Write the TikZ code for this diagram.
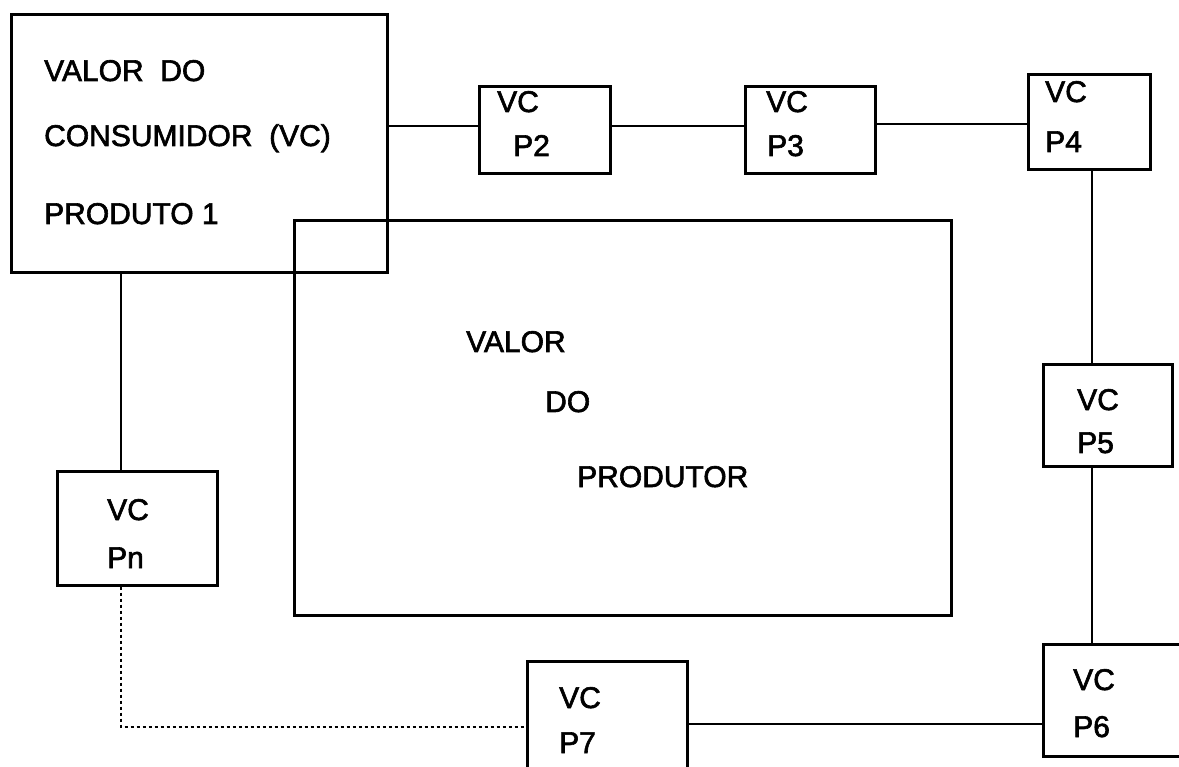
\documentclass[tikz,border=0pt]{standalone}
\usepackage{fontspec}
\setmainfont{Liberation Sans}[FakeBold=2]
\begin{document}
\begin{tikzpicture}[x=1pt,y=-1pt,
  box/.style={draw, line width=3pt, inner sep=0pt, rectangle},
  lbl/.style={anchor=base west, inner sep=0pt, font=\fontsize{30}{36}\selectfont},
  conn/.style={line width=2.8pt},
  dotconn/.style={line width=2.6pt, dash pattern=on 3pt off 3pt}]
\clip (0,0) rectangle (1179,767);
\fill[white] (0,0) rectangle (1179,767);
% boxes
\node[box, minimum width=376pt, minimum height=258pt] (big) at (199,144) {};
\node[box, minimum width=657pt, minimum height=394pt] (prod) at (622.5,418) {};
\node[box, minimum width=131pt, minimum height=87pt] (p2) at (544.5,130.5) {};
\node[box, minimum width=130pt, minimum height=87pt] (p3) at (810,130.5) {};
\node[box, minimum width=122pt, minimum height=95pt] (p4) at (1089,122.5) {};
\node[box, minimum width=129pt, minimum height=101pt] (p5) at (1107.5,415.5) {};
\node[box, minimum width=170pt, minimum height=112pt] (p6) at (1128,700) {};
\node[box, minimum width=160pt, minimum height=114pt] (pn) at (137,528) {};
\node[box, minimum width=160pt, minimum height=140pt] (p7) at (607,731) {};
% texts
\node[lbl] (t1) at (44,81) {VALOR\ \ DO};
\node[lbl] (t2) at (44,146) {CONSUMIDOR\ \ (VC)};
\node[lbl] (t3) at (44,224) {PRODUTO 1};
\node[lbl] (t4) at (466,352) {VALOR};
\node[lbl] (t5) at (545,412) {DO};
\node[lbl] (t6) at (577,487) {PRODUTOR};
\node[lbl] (a2) at (497,112) {VC};
\node[lbl] (b2) at (513,156) {P2};
\node[lbl] (a3) at (766,112) {VC};
\node[lbl] (b3) at (767,156) {P3};
\node[lbl] (a4) at (1045,102) {VC};
\node[lbl] (b4) at (1045,152) {P4};
\node[lbl] (a5) at (1077,410) {VC};
\node[lbl] (b5) at (1077,453) {P5};
\node[lbl] (a6) at (1073,690) {VC};
\node[lbl] (b6) at (1073,737) {P6};
\node[lbl] (an) at (107,520) {VC};
\node[lbl] (bn) at (107,568) {Pn};
\node[lbl] (a7) at (559,708) {VC};
\node[lbl] (b7) at (559,753) {P7};
% connector anchors
\coordinate (y1) at (0,126);
\coordinate (y2) at (0,124);
\coordinate (x1) at (1092,0);
\coordinate (xn) at (121,0);
\coordinate (y3) at (0,727);
\coordinate (y4) at (0,724);
\coordinate (corner) at (121,727);
% connectors
\draw[conn] (big.east |- y1) -- (p2.west |- y1);
\draw[conn] (p2.east |- y1) -- (p3.west |- y1);
\draw[conn] (p3.east |- y2) -- (p4.west |- y2);
\draw[conn] (p4.south -| x1) -- (p5.north -| x1);
\draw[conn] (p5.south -| x1) -- (p6.north -| x1);
\draw[conn] (p7.east |- y4) -- (p6.west |- y4);
\draw[conn] (big.south -| xn) -- (pn.north -| xn);
\draw[dotconn] (pn.south -| xn) -- (corner) -- (p7.west |- y3);
\end{tikzpicture}
\end{document}
